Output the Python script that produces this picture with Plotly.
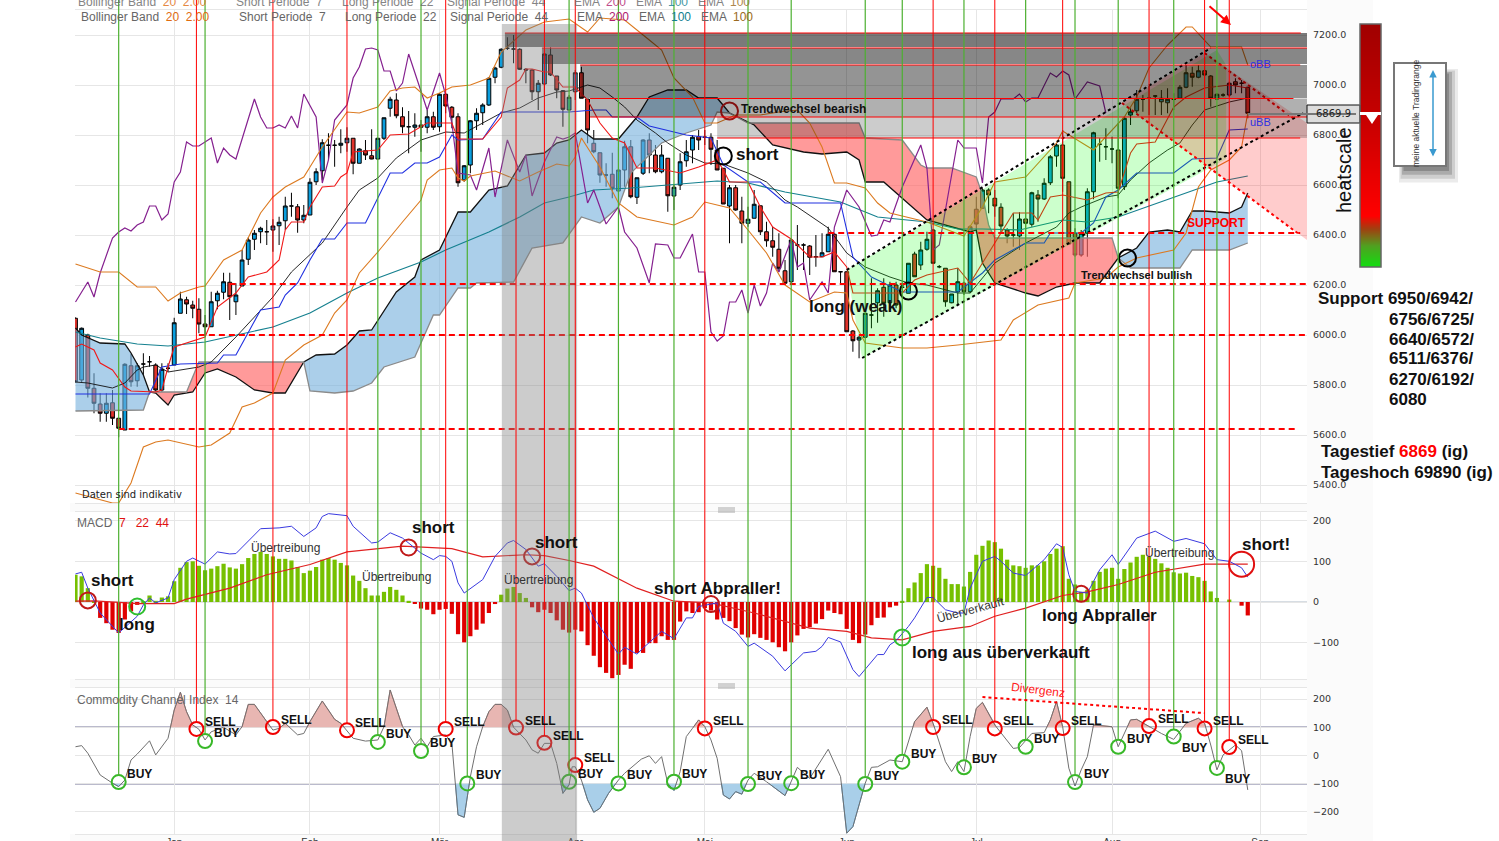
# plot.py - DAX daily chart with ichimoku, MACD and CCI panels
import plotly.graph_objects as go

W, H = 1499, 841

# candles, one per trading day
open_ = [6067,5820,6000,5787,5724,5687,5729,5667,5620,5877,
         5817,5884,5893,5880,5780,5867,5880,6087,6141,6120,
         6103,6044,6033,6137,6171,6211,6133,6196,6303,6383,
         6413,6413,6420,6437,6457,6516,6513,6460,6480,6613,
         6657,6759,6759,6759,6769,6787,6687,6737,6717,6704,
         6787,6907,6940,6873,6833,6831,6840,6831,6873,6833,
         6963,6911,6873,6620,6680,6857,6889,6920,7031,7071,
         7147,7144,7143,7063,7060,6973,7004,7120,7036,6977,
         6900,6973,7049,6944,6767,6729,6640,6643,6576,6660,
         6753,6551,6647,6780,6720,6653,6707,6556,6600,6697,
         6740,6793,6791,6791,6740,6667,6516,6589,6496,6447,
         6467,6517,6413,6377,6343,6257,6213,6360,6360,6356,
         6313,6313,6333,6403,6253,6253,6016,5980,5991,6080,
         6129,6191,6129,6200,6191,6167,6324,6280,6343,6420,
         6273,6267,6129,6173,6207,6173,6503,6507,6580,6547,
         6511,6420,6400,6396,6464,6443,6560,6544,6609,6716,
         6760,6613,6407,6320,6407,6573,6763,6753,6744,6740,
         6593,6880,6897,6943,6947,6956,6933,6929,6943,6947,
         6991,7047,7031,7057,7036,6944,6960,6960,7013,7007,
         6991]
high = [6070,6030,6005,5847,5767,5767,5780,5667,5887,5924,
        5887,5927,5916,5887,5887,5887,6069,6173,6153,6137,
        6147,6080,6173,6177,6249,6249,6207,6340,6390,6420,
        6433,6460,6463,6473,6553,6569,6524,6520,6627,6667,
        6783,6807,6780,6823,6831,6787,6747,6780,6823,6787,
        6869,6953,6967,6911,6896,6887,6860,6900,6893,6967,
        6967,6916,6887,6680,6860,6907,6927,7031,7073,7147,
        7191,7200,7147,7067,7063,7020,7127,7151,7036,6980,
        6960,7060,7073,6944,6820,6729,6687,6729,6753,6777,
        6780,6629,6783,6807,6760,6760,6707,6600,6727,6780,
        6800,6820,6820,6807,6780,6667,6600,6600,6553,6513,
        6580,6517,6453,6433,6407,6300,6380,6440,6367,6360,
        6400,6407,6433,6407,6253,6253,6020,5996,6087,6227,
        6187,6227,6213,6213,6207,6287,6333,6373,6413,6423,
        6280,6267,6164,6267,6213,6440,6553,6587,6587,6580,
        6527,6427,6487,6491,6487,6573,6580,6627,6720,6767,
        6820,6613,6427,6420,6587,6813,6787,6827,6793,6847,
        6873,6907,6980,6960,6996,6960,6980,6987,6967,7000,
        7080,7073,7080,7113,7040,6967,6967,7013,7027,7020,
        6993]
low = [5810,5810,5750,5687,5653,5653,5640,5591,5620,5793,
       5793,5840,5873,5773,5773,5853,5880,6087,6084,6067,
       6007,6000,6033,6103,6143,6060,6080,6196,6280,6340,
       6367,6360,6333,6360,6420,6473,6409,6447,6480,6600,
       6620,6700,6673,6727,6733,6643,6687,6700,6703,6703,
       6780,6873,6867,6807,6727,6793,6733,6807,6820,6813,
       6887,6827,6593,6613,6647,6820,6840,6916,7007,7067,
       7140,7087,7060,7007,6940,6900,6960,7036,6947,6833,
       6900,6940,6947,6767,6727,6609,6593,6547,6567,6593,
       6547,6524,6640,6647,6647,6647,6493,6500,6580,6673,
       6687,6740,6760,6680,6660,6524,6367,6497,6367,6433,
       6467,6400,6353,6313,6253,6200,6207,6260,6260,6240,
       6273,6316,6333,6253,6207,6013,5933,5907,5991,6027,
       6049,6073,6100,6107,6167,6167,6233,6260,6337,6287,
       6267,6113,6127,6120,6160,6167,6407,6507,6487,6473,
       6407,6367,6353,6340,6360,6433,6453,6540,6600,6673,
       6573,6360,6313,6313,6313,6543,6693,6700,6687,6547,
       6580,6840,6887,6893,6880,6880,6880,6887,6900,6947,
       6987,6993,7027,6993,6913,6940,6953,6953,6967,6967,
       6867]
close = [5813,6027,5787,5727,5687,5727,5667,5627,5883,5813,
         5877,5884,5893,5780,5863,5867,6049,6144,6124,6107,
         6044,6033,6133,6167,6213,6153,6160,6300,6380,6407,
         6427,6413,6436,6451,6516,6516,6460,6479,6611,6653,
         6769,6759,6759,6767,6787,6687,6744,6720,6704,6787,
         6869,6943,6877,6833,6833,6840,6831,6873,6831,6963,
         6916,6871,6609,6677,6857,6887,6920,7027,7068,7143,
         7147,7144,7063,7060,6973,7007,7124,7040,6980,6903,
         6951,7049,6947,6820,6733,6640,6640,6587,6660,6753,
         6553,6629,6780,6720,6653,6720,6557,6591,6693,6733,
         6791,6780,6791,6743,6660,6524,6589,6500,6447,6463,
         6523,6413,6377,6351,6267,6207,6380,6360,6360,6311,
         6313,6329,6403,6253,6253,6013,5977,5991,6087,6080,
         6177,6127,6200,6120,6191,6287,6233,6340,6383,6287,
         6273,6133,6164,6213,6173,6433,6444,6580,6560,6516,
         6436,6396,6400,6464,6447,6569,6544,6607,6713,6760,
         6627,6364,6320,6407,6573,6809,6763,6753,6744,6587,
         6867,6893,6943,6943,6947,6956,6947,6943,6943,6991,
         7049,7031,7057,7040,6947,6963,6960,7007,7000,7007,
         6887]

# indicator lines: trading day index and price at each corner
boll_up_day = [0,4,7,10,13,15,17,20,21,24,27,30,32,34,37,40,44,46,49,51,53,55,57,59,61,64,67,69,73,76,80,83,85,89,93,95,97,100,102,104,107,111,114,117,119,121,123,125,128,130,132,138,144,147,149,154,159,160,165,170,172,174,177,180,181,184,189,190]
boll_up = [6284,6252,6252,6192,6192,6136,6168,6192,6196,6300,6340,6488,6552,6592,6632,6752,6892,6888,6912,6976,6988,6992,6948,6968,6992,7000,7028,7132,7220,7252,7264,7212,7268,7260,7180,7140,7028,6952,6848,6848,6880,6880,6892,6900,6848,6752,6608,6608,6588,6528,6488,6452,6396,6512,6612,6632,6768,6816,6740,6872,6952,7068,7160,7232,7232,7152,7152,7080]
boll_low_day = [0,6,7,9,11,13,15,20,22,25,27,29,32,34,37,40,42,44,46,49,53,56,57,59,61,62,63,64,68,72,75,78,80,81,82,85,88,91,97,100,102,106,109,112,115,119,123,125,126,128,134,138,143,150,152,156,161,162,167,169,172,176,178,180,181,182,184,187,189,190]
boll_low = [5368,5328,5328,5408,5552,5572,5580,5552,5560,5608,5712,5728,5768,5900,5960,6000,6088,6140,6248,6332,6452,6540,6620,6660,6668,6628,6616,6636,6656,6616,6652,6684,6676,6712,6788,6672,6528,6472,6440,6472,6532,6508,6420,6328,6200,6132,6172,6168,6060,5968,5948,5948,5960,5980,6060,6120,6148,6208,6228,6272,6308,6328,6340,6408,6500,6592,6660,6700,6752,6888]
short_day = [0,1,3,4,6,8,9,13,14,15,16,21,23,26,28,31,33,34,35,37,38,40,42,43,44,45,49,51,54,57,61,62,66,69,70,72,73,74,76,77,79,81,83,85,87,89,91,94,98,101,104,105,106,109,111,113,116,119,121,123,125,126,130,134,136,138,143,145,147,149,152,155,156,158,160,164,167,169,171,172,175,178,180,183,187,190]
short_ema = [5952,5964,5940,5888,5860,5792,5776,5772,5780,5872,5952,5992,6112,6168,6232,6252,6300,6420,6452,6452,6512,6592,6596,6632,6648,6732,6740,6800,6804,6848,6848,6784,6784,6872,6988,7020,7064,7064,7052,7052,6992,6992,6940,6848,6788,6768,6668,6668,6648,6672,6700,6660,6612,6612,6512,6432,6384,6312,6312,6332,6272,6168,6168,6168,6220,6240,6268,6208,6288,6368,6488,6488,6460,6552,6560,6540,6568,6572,6728,6764,6772,6912,6952,6988,7000,6988]
long_day = [0,2,6,8,10,11,13,15,20,22,26,32,35,37,40,44,46,49,52,56,60,63,66,69,72,75,78,80,83,85,87,89,91,94,96,99,102,105,109,112,115,117,122,125,128,132,135,138,143,145,149,154,159,161,163,167,169,171,174,177,179,181,183,187,190]
long_ema = [5812,5808,5788,5808,5860,5872,5880,5852,5872,5892,5992,6152,6252,6300,6368,6512,6580,6628,6708,6780,6812,6808,6848,6888,6908,6948,6972,6976,7000,6988,6952,6912,6860,6808,6768,6720,6688,6684,6648,6612,6540,6512,6428,6328,6272,6232,6208,6200,6168,6168,6288,6368,6432,6488,6512,6552,6560,6620,6688,6740,6768,6840,6900,6932,6948]
signal_day = [0,12,14,17,23,24,26,30,33,34,36,38,40,42,44,47,51,53,55,57,59,61,62,66,69,80,84,86,87,91,93,99,103,105,109,111,115,124,126,129,134,143,147,149,154,157,158,163,165,167,169,172,178,181,185,187,190]
signal_line = [5764,5764,5872,5884,5888,5920,5920,6100,6112,6160,6208,6300,6384,6384,6448,6448,6648,6648,6688,6688,6712,6800,6780,6784,6892,6892,6900,6900,6872,6872,6836,6800,6788,6680,6612,6612,6528,6528,6312,6232,6172,6172,6248,6300,6368,6368,6408,6408,6448,6552,6580,6648,6648,6704,6708,6820,6824]
ema100_day = [0,4,10,15,21,26,32,38,44,49,56,60,67,72,76,80,84,90,96,104,109,115,124,130,138,143,147,153,160,164,169,178,185,190]
ema100 = [6012,5988,5964,5956,5972,6000,6032,6088,6168,6228,6292,6340,6412,6472,6528,6552,6580,6588,6600,6616,6608,6572,6532,6472,6452,6424,6424,6420,6460,6452,6472,6552,6612,6636]
ema200_day = [0,2,3,4,6,7,8,9,10,11,12,13,14,15,16,17,18,19,20,22,23,24,25,26,29,30,31,32,33,34,35,36,37,39,40,41,42,44,45,46,47,48,49,50,51,52,53,54,57,59,60,61,62,64,65,67,68,70,72,73,74,76,78,79,80,81,83,84,86,88,89,91,93,94,96,97,98,100,101,102,103,104,105,106,107,108,109,110,111,112,113,114,116,117,118,119,121,122,123,125,127,129,130,131,132,134,137,138,139,140,143,144,146,147,148,149,150,152,153,154,155,156,158,159,160,161,162,164,166,167]
ema200 = [6132,6212,6152,6248,6388,6412,6428,6416,6440,6452,6516,6516,6460,6484,6612,6652,6772,6756,6756,6788,6688,6748,6720,6704,6944,6872,6828,6828,6840,6828,6876,6828,6964,6872,6608,6700,6860,6920,7028,7072,7144,7148,7140,7056,7056,6976,7008,7124,6900,7048,6960,6848,6648,6640,6580,6748,6552,6780,6652,6720,6556,6692,6792,6784,6792,6808,6528,6580,6444,6512,6412,6348,6208,6364,6360,6308,6308,6404,6252,6252,6012,5976,5996,6132,6132,6180,6088,6200,6116,6168,6288,6252,6380,6272,6288,6140,6212,6168,6432,6580,6512,6396,6400,6460,6452,6592,6760,6668,6340,6360,6780,6748,6748,6608,6872,6892,6944,6944,6964,6932,6948,6948,7048,7032,7056,7040,6944,7012,6996,6888]

# ichimoku cloud edges, the crossings at days 12, 37, 106 and 169 sit in both lists
span_a_day = [0,1,4,8,9,11,12,13,15,16,19,21,23,26,29,32,34,37,39,42,44,46,48,52,55,56,59,60,62,64,67,70,73,76,78,80,82,84,88,91,93,96,99,101,104,106,110,113,118,121,125,127,128,131,138,145,146,147,149,154,156,159,162,166,169,172,174,177,179,181,183,187,189,190]
span_a = [6028,6000,5968,5964,5928,5840,5772,5768,5720,5760,5772,5848,5864,5832,5780,5768,5768,5892,5920,5924,5960,6016,6020,6172,6232,6300,6340,6392,6492,6492,6580,6596,6720,6728,6768,6780,6820,6784,6784,6872,6952,6980,6980,6948,6948,6888,6840,6760,6732,6724,6732,6700,6612,6612,6460,6412,6420,6288,6208,6168,6156,6192,6208,6208,6308,6348,6412,6420,6412,6496,6496,6488,6512,6568]
span_b_day = [0,11,12,18,20,36,37,38,42,45,48,50,55,58,59,62,64,65,71,74,79,82,85,88,90,95,99,103,104,106,109,116,127,128,134,137,138,142,146,147,148,149,160,168,169,171,179,181,187,190]
span_b = [5696,5700,5772,5772,5892,5892,5892,5776,5768,5776,5808,5872,5912,6080,6080,6188,6188,6208,6212,6348,6368,6472,6448,6512,6648,6768,6808,6840,6892,6888,6848,6848,6848,6788,6780,6680,6668,6668,6632,6560,6440,6388,6388,6388,6308,6268,6268,6340,6340,6368]
cloud_from = [0,12,37,106,169]
cloud_to = [12,37,106,169,190]
cloud_color = ["rgba(115,175,220,0.6)","rgba(255,100,100,0.65)","rgba(115,175,220,0.6)","rgba(255,100,100,0.65)","rgba(115,175,220,0.6)"]

# MACD panel
macd_hist = [67,63,34,2,-39,-52,-68,-76,-43,-23,-7,2,16,3,11,14,51,84,98,100,
             89,78,82,88,94,85,82,93,108,118,123,118,112,106,106,102,86,71,77,86,
             104,108,104,96,90,65,52,34,16,16,25,37,30,16,3,-4,-16,-19,-30,-19,
             -17,-29,-79,-99,-84,-68,-53,-27,-5,18,33,37,22,10,-13,-25,-19,-27,-45,-68,
             -75,-68,-72,-106,-132,-160,-174,-187,-179,-154,-164,-125,-125,-101,-101,-84,-93,-93,-48,-23,
             -27,-25,-15,-21,-43,-39,-47,-64,-80,-87,-79,-88,-93,-99,-111,-121,-99,-82,-66,-62,
             -53,-42,-21,-27,-30,-66,-93,-101,-80,-57,-39,-38,-13,-9,3,34,48,71,93,89,
             84,57,44,44,38,74,116,138,151,147,131,104,90,88,84,90,90,100,118,131,
             137,57,43,25,30,52,74,82,84,57,81,97,111,116,111,106,95,84,73,70,
             72,64,61,52,26,10,0,6,0,-9,-33]
macd_day = [0,1,2,4,7,10,11,12,13,15,16,18,19,21,23,25,26,30,33,35,37,39,40,41,44,45,48,49,51,53,56,58,59,60,61,62,63,66,68,70,71,73,75,76,78,80,81,82,84,88,89,91,92,94,95,97,99,100,101,104,105,107,109,110,113,115,118,120,121,122,124,126,127,130,131,132,133,135,136,138,139,141,143,144,145,147,149,150,152,154,156,157,159,160,161,162,164,166,168,169,172,175,178,180,183,185,187,189,190]
macd_line = [69,73,34,-27,-76,-35,-7,10,-2,10,55,100,108,93,123,118,119,180,182,186,161,182,210,217,212,186,145,147,170,157,120,104,114,112,100,47,22,55,112,145,151,129,88,94,63,28,34,22,-39,-128,-111,-128,-113,-84,-72,-90,-39,-39,-11,-2,-52,-72,-109,-101,-133,-169,-125,-121,-109,-87,-98,-166,-183,-129,-129,-105,-95,-60,-39,11,11,-19,-27,-27,34,100,112,100,71,65,92,104,143,134,67,26,22,79,116,92,157,174,149,156,143,104,100,84,61]
macd_sig_day = [0,3,7,10,16,18,25,31,38,44,53,61,66,73,76,80,84,91,97,103,110,116,119,125,129,134,139,145,149,154,160,164,169,175,183,190]
macd_signal = [2,3,-1,-4,-4,7,34,67,92,123,137,131,111,116,114,102,88,34,2,-2,-27,-52,-64,-72,-88,-93,-72,-60,-35,-15,16,25,43,73,93,93]
macd_ring_day = [2,10,54,74,103,134,163]
macd_ring_val = [4,-11,134,112,-5,-87,20]
macd_ring_col = ["#c01818","#2fbf2f","#c01818","#c01818","#c01818","#2fbf2f","#c01818"]
macd_note = ["short","long","Übertreibung","short","Übertreibung","short","Übertreibung","short Abpraller!","Überverkauft","long aus überverkauft","long Abpraller","Übertreibung","short!"]
macd_note_day = [6,10,34,58,52,78,75,104,145,150,166,179,193]
macd_note_val = [52,-54,133,182,61,147,54,32,-20,-123,-32,120,142]
macd_note_big = [1,1,0,1,0,1,0,1,0,1,1,0,1]
macd_note_rot = [0,0,0,0,0,0,0,0,-15,0,0,0,0]

# CCI panel
cci_day = [0,1,2,4,6,7,8,9,10,12,13,15,16,17,18,19,20,21,22,24,26,27,28,29,31,32,33,34,36,37,38,40,42,43,45,47,49,50,51,53,54,55,56,57,58,60,61,61.5,62,63,64,65,66,67,68,69,70,71,73,74,75,76,77,78,79,80,80.5,81,82,83,84,85,86.4,88,89,91.7,93,94,95,96,97,98,99,100,101,102,103,104,105,106,107,108,109,110,112,115,117,119,122,124,125,126,128,129,130,132,134,136,138,139,141,142,143,144,145,146,147,149,152,153,154,155,157,158,159,160,161,162,163,164,165,168,169,171,172,174,176,178,180,182,183,184,185,186,188,189,190]
cci = [31,35,8,-69,-98,-110,-87,-16,5,52,2,61,161,224,155,108,93,55,84,100,73,102,181,181,120,90,96,114,73,78,120,193,128,114,61,51,55,102,232,102,73,37,61,31,67,73,43,-75,-210,-219,-75,31,102,155,181,181,161,100,55,20,8,43,43,-28,-134,-104,-40,-40,-87,-157,-201,-187,-134,-87,-63,-13,-1,-28,-4,-99,-124,-57,67,96,126,102,55,-10,-140,-154,-128,-137,-87,-63,-93,-142,-42,-81,22,-75,-275,-252,-98,-42,-40,-16,-22,120,171,114,-22,-57,-22,-57,67,167,188,108,25,28,55,78,81,126,191,102,-45,-108,-51,-4,108,102,31,126,128,102,78,57,114,132,114,37,-51,2,37,17,-122]
buy_day = [7,21,49,56,63.5,80,88,97,109,116,128,134,144,154,162,169,178,185]
buy_val = [-94,51,48,16,-99,-93,-99,-93,-101,-98,-101,-22,-42,31,-94,31,67,-44]
buy_below = [0,0,0,0,0,0,0,0,0,0,0,0,0,0,0,0,1,1]
sell_day = [19.6,32,44,60,71.4,76,81,102,139,149,160,174,183,187]
sell_val = [94,101,89,94,99,45,-34,96,101,96,97,104,96,30]

# month ticks and price levels
month_day = [16,38,59,81,102,125,146,168,192]
month_name = ["Jan","Feb","Mär","Apr","Mai","Jun","Jul","Aug","Sep"]
price_ticks = [5400,5600,5800,6000,6200,6400,6600,6800,7000,7200]
macd_ticks = [-100,0,100,200]
cci_ticks = [-200,-100,0,100,200]
support_level = [6408,6204,6000,5624]
support_from = [122,25,20,7]
support_to = [198.5,199.4,199.4,198]

# resistance bands (top, bottom, first day, last day of the red line)
band_top = [7208,7148,7080,6946,6872]
band_bot = [7152,7084,6948,6872,6788]
band_from = [69.6,75.6,81.8,83.4,104]
band_alpha = [0.52,0.47,0.42,0.31,0.2]
band_line = [7208,7148,7080,6946,6872,6788]
band_line_from = [69.6,75.6,81.8,83.4,83.4,104]
band_line_to = [198.6,199.6,198.5,197.4,199.6,198.5]

# channels
up_channel_day = [125,185,186.5,186.5,127.5]
up_channel = [6260,7140,7080,6704,5908]
down_channel_day = [169.6,183,199.6,199.6]
down_channel = [6928,7128,6848,6380]
dotted_black_day = [[125,184],[127.5,199]]
dotted_black = [[6260,7148],[5908,6888]]
dotted_red_day = [[183,197.3],[169.6,198.5]]
dotted_red = [[7128,6868],[6928,6400]]

# heat scale bar, 0 at the green end and 1 at the dark red end
heat_levels = [0,0.05,0.1,0.15,0.2,0.25,0.3,0.4,0.5,0.6,0.7,0.8,0.9,1]
heat_colors = [[0,"#10e010"],[0.09,"#50a020"],[0.16,"#a04010"],[0.21,"#ff0000"],[0.6,"#c80000"],[1,"#a00000"]]


def px(x):
    return x / W


def py(y):
    return 1 - y / H


def cci_paper(v):
    # cci axis: 239 at y=688 and -278 at y=834
    return py(688 + (239 - v) / 517 * 146)


def cut(days, vals, level, sign):
    # polygons of the part of the cci line beyond a level
    xs, ys = [], []
    for d0, v0, d1, v1 in zip(days, vals, days[1:], vals[1:]):
        a, b = (v0 - level) * sign > 0, (v1 - level) * sign > 0
        if a:
            xs.append(d0)
            ys.append(v0)
        if a != b:
            t = (level - v0) / (v1 - v0)
            xs.append(d0 + t * (d1 - d0))
            ys.append(level)
            if a:
                xs.append(None)
                ys.append(None)
    return xs, ys


fig = go.Figure()

# price panel
fig.add_trace(go.Candlestick(
    x=list(range(len(close))), open=open_, high=high, low=low, close=close,
    whiskerwidth=0, line=dict(width=1),
    increasing=dict(fillcolor="#0a9ede", line=dict(color="#000000", width=1)),
    decreasing=dict(fillcolor="#e0332b", line=dict(color="#000000", width=1)),
    xaxis="x", yaxis="y", showlegend=False,
))
for c0, c1, col in zip(cloud_from, cloud_to, cloud_color):
    xa = [d for d in span_a_day if c0 <= d <= c1]
    ya = [v for d, v in zip(span_a_day, span_a) if c0 <= d <= c1]
    xb = [d for d in span_b_day if c0 <= d <= c1]
    yb = [v for d, v in zip(span_b_day, span_b) if c0 <= d <= c1]
    fig.add_trace(go.Scatter(x=xa + xb[::-1], y=ya + yb[::-1], fill="toself", fillcolor=col,
                             mode="none", xaxis="x", yaxis="y", hoverinfo="skip"))

price_lines = [
    (span_a_day, span_a, "#111111", 1.3),
    (span_b_day, span_b, "#8a8a8a", 1.3),
    (ema100_day, ema100, "#15808f", 1.2),
    (ema200_day, ema200, "#85208f", 1.2),
    (boll_up_day, boll_up, "#dc7a20", 1.1),
    (boll_low_day, boll_low, "#dc7a20", 1.1),
    (long_day, long_ema, "#111111", 0.9),
    (signal_day, signal_line, "#2030e0", 1.1),
    (short_day, short_ema, "#f01818", 1.1),
]
for xs, ys, col, wd in price_lines:
    fig.add_trace(go.Scatter(x=xs, y=ys, mode="lines", line=dict(color=col, width=wd),
                             xaxis="x", yaxis="y", hoverinfo="skip"))

fig.add_trace(go.Scatter(x=up_channel_day + up_channel_day[:1], y=up_channel + up_channel[:1], fill="toself",
                         fillcolor="rgba(0,255,0,0.2)", mode="none", xaxis="x", yaxis="y", hoverinfo="skip"))
fig.add_trace(go.Scatter(x=down_channel_day + down_channel_day[:1], y=down_channel + down_channel[:1], fill="toself",
                         fillcolor="rgba(255,0,0,0.2)", mode="none", xaxis="x", yaxis="y", hoverinfo="skip"))
for xs, ys in zip(dotted_black_day, dotted_black):
    fig.add_trace(go.Scatter(x=xs, y=ys, mode="lines", line=dict(color="#000000", width=2, dash="dot"),
                             xaxis="x", yaxis="y", hoverinfo="skip"))
for xs, ys in zip(dotted_red_day, dotted_red):
    fig.add_trace(go.Scatter(x=xs, y=ys, mode="lines", line=dict(color="#ff0000", width=2, dash="dot"),
                             xaxis="x", yaxis="y", hoverinfo="skip"))
# rings on the price panel
fig.add_trace(go.Scatter(x=[106,105,135,170.5], y=[6896,6716,6176,6308], mode="markers",
                         marker=dict(symbol="circle-open", size=17, color=["#c01818","#000000","#000000","#000000"],
                                     line=dict(width=2)), xaxis="x", yaxis="y", hoverinfo="skip"))

# MACD panel
fig.add_trace(go.Bar(x=list(range(len(macd_hist))), y=macd_hist, width=0.68,
                     marker=dict(color=["#76c000" if v >= 0 else "#e00000" for v in macd_hist], line_width=0),
                     xaxis="x2", yaxis="y2", hoverinfo="skip"))
fig.add_trace(go.Scatter(x=macd_sig_day, y=macd_signal, mode="lines", line=dict(color="#e02020", width=1.2),
                         xaxis="x2", yaxis="y2", hoverinfo="skip"))
fig.add_trace(go.Scatter(x=macd_day, y=macd_line, mode="lines", line=dict(color="#3a3ae0", width=1),
                         xaxis="x2", yaxis="y2", hoverinfo="skip"))
fig.add_trace(go.Scatter(x=macd_ring_day, y=macd_ring_val, mode="markers",
                         marker=dict(symbol="circle-open", size=16, color=macd_ring_col, line=dict(width=2)),
                         xaxis="x2", yaxis="y2", hoverinfo="skip"))
fig.add_trace(go.Scatter(x=[189], y=[93], mode="markers",
                         marker=dict(symbol="circle-open", size=25, color="#e01010", line=dict(width=2)),
                         xaxis="x2", yaxis="y2", hoverinfo="skip"))

# CCI panel
up_x, up_y = cut(cci_day, cci, 100, 1)
down_x, down_y = cut(cci_day, cci, -100, -1)
fig.add_trace(go.Scatter(x=up_x, y=up_y, fill="toself", fillcolor="#e8b6b2", mode="lines",
                         line=dict(color="#cf8a86", width=1), xaxis="x3", yaxis="y3", hoverinfo="skip"))
fig.add_trace(go.Scatter(x=down_x, y=down_y, fill="toself", fillcolor="#a9cfe9", mode="lines",
                         line=dict(color="#5ba0d0", width=1), xaxis="x3", yaxis="y3", hoverinfo="skip"))
fig.add_trace(go.Scatter(x=cci_day, y=cci, mode="lines", line=dict(color="#707070", width=1),
                         xaxis="x3", yaxis="y3", hoverinfo="skip"))
fig.add_trace(go.Scatter(x=buy_day, y=buy_val, mode="markers",
                         marker=dict(symbol="circle-open", size=14, color="#38b828", line=dict(width=2)),
                         xaxis="x3", yaxis="y3", hoverinfo="skip"))
fig.add_trace(go.Scatter(x=sell_day, y=sell_val, mode="markers",
                         marker=dict(symbol="circle-open", size=14, color="#f00000", line=dict(width=2)),
                         xaxis="x3", yaxis="y3", hoverinfo="skip"))

# heat scale
fig.add_trace(go.Heatmap(z=[[v] for v in heat_levels], y=heat_levels, x=[0], zsmooth="best", colorscale=heat_colors,
                         zmin=0, zmax=1, showscale=False, xaxis="x4", yaxis="y4", hoverinfo="skip"))

shapes = []
# near white chart background around the panels
for x0, y0, x1, y1 in [(70,503,1373,512), (70,679,1373,688), (70,834,1373,841), (1307,0,1373,841)]:
    shapes.append(dict(type="rect", xref="paper", yref="paper", x0=px(x0), x1=px(x1), y0=py(y0), y1=py(y1),
                       fillcolor="#fbfbfb", line_width=0, layer="below"))
# bands and their red edges
for top, bot, d0, a in zip(band_top, band_bot, band_from, band_alpha):
    shapes.append(dict(type="rect", xref="x", yref="y", x0=d0, x1=199.6, y0=bot, y1=top,
                       fillcolor=f"rgba(0,0,0,{a})", line_width=0, layer="above"))
for v, d0, d1 in zip(band_line, band_line_from, band_line_to):
    shapes.append(dict(type="line", xref="x", yref="y", x0=d0, x1=d1, y0=v, y1=v, line=dict(color="#ff0000", width=1.2)))
# support levels
for v, d0, d1 in zip(support_level, support_from, support_to):
    shapes.append(dict(type="line", xref="x", yref="y", x0=d0, x1=d1, y0=v, y1=v,
                       line=dict(color="#ff0000", width=2, dash="6px,4px")))
# grey time span through all panels
shapes.append(dict(type="rect", xref="x", yref="paper", x0=69.1, x1=81.3, y0=0, y1=py(24),
                   fillcolor="rgba(128,128,128,0.4)", line_width=0, layer="above"))
# signal verticals, each one runs down to its ring
for d, v in zip(buy_day, buy_val):
    shapes.append(dict(type="line", xref="x", yref="paper", x0=d, x1=d, y0=cci_paper(v) + 0.008, y1=1,
                       line=dict(color="#4cb030", width=1.2)))
for d, v in zip(sell_day, sell_val):
    shapes.append(dict(type="line", xref="x", yref="paper", x0=d, x1=d, y0=cci_paper(v) + 0.008, y1=1,
                       line=dict(color="#ff0000", width=1)))
# cci guides
for v, col, wd in [(100,"#77779a",1.4), (0,"#b8c4c8",1.2), (-100,"#77779a",1.4)]:
    shapes.append(dict(type="line", xref="x3", yref="y3", x0=-0.08, x1=199.6, y0=v, y1=v, line=dict(color=col, width=wd), layer="below"))
shapes.append(dict(type="line", xref="x2", yref="y2", x0=-0.08, x1=199.6, y0=0, y1=0, line=dict(color="#b0bcc8", width=1.2), layer="below"))
shapes.append(dict(type="line", xref="x3", yref="y3", x0=147, x1=183, y0=207, y1=150, line=dict(color="#ff0000", width=2, dash="dot")))
# panel drag handles
for yc in (510, 686):
    for k in (-2, 0, 2):
        shapes.append(dict(type="line", xref="paper", yref="paper", x0=px(718), x1=px(735), y0=py(yc + k), y1=py(yc + k),
                           line=dict(color="#a8a8a8", width=1)))
# current price box and line
shapes.append(dict(type="rect", xref="paper", yref="paper", x0=px(1307), x1=px(1360), y0=py(123), y1=py(105),
                   fillcolor="#dddddd", line=dict(color="#111111", width=1)))
shapes.append(dict(type="line", xref="paper", yref="paper", x0=px(1248), x1=px(1356), y0=py(114), y1=py(114),
                   line=dict(color="#777777", width=2)))
# heat bar frame, marker gap and triangle
shapes.append(dict(type="rect", xref="paper", yref="paper", x0=px(1360), x1=px(1381), y0=py(267), y1=py(24),
                   line=dict(color="#666666", width=1.5)))
shapes.append(dict(type="rect", xref="paper", yref="paper", x0=px(1360), x1=px(1381), y0=py(115), y1=py(112),
                   fillcolor="#ffffff", line_width=0))
shapes.append(dict(type="path", xref="paper", yref="paper",
                   path=f"M{px(1366)},{py(115)} L{px(1378)},{py(115)} L{px(1372)},{py(124)} Z",
                   fillcolor="#ffffff", line_width=0))
# trading range note with soft shadow
for k, a in [(12,0.12), (9,0.2), (6,0.3), (3,0.4)]:
    shapes.append(dict(type="rect", xref="paper", yref="paper", x0=px(1402 + 3 - k / 2), x1=px(1446 + k), y0=py(167 + k * 1.3), y1=py(75 - k / 2),
                       fillcolor=f"rgba(90,90,90,{a})", line_width=0))
shapes.append(dict(type="rect", xref="paper", yref="paper", x0=px(1394), x1=px(1446), y0=py(166), y1=py(63),
                   fillcolor="#ffffff", line=dict(color="#777777", width=2)))


def note(text, x, y, xref, yref, size=12, color="#111111", bold=False, angle=0, xanchor="center", family="Liberation Sans", **kw):
    # annotation boxes have a small pad, left aligned texts are pulled back over it
    if xanchor == "left":
        kw["xshift"] = -2
    return dict(text=f"<b>{text}</b>" if bold else text, x=x, y=y, xref=xref, yref=yref, showarrow=False,
                font=dict(size=size, color=color, family=family), textangle=angle, xanchor=xanchor, yanchor="middle", **kw)


ann = []
# legend rows on top, the first one is cut off by the page edge
GREY = "#666666"
def legend_row(y, dx, alpha):
    items = [
        (81, f'Bollinger Band  <span style="color:#e06c10">20  2.00</span>'),
        (239, 'Short Periode  7'),
        (345, 'Long Periode  22'),
        (450, 'Signal Periode  44'),
        (577, 'EMA  <span style="color:#b0206f">200</span>'),
        (639, 'EMA  <span style="color:#10808f">100</span>'),
        (701, 'EMA  <span style="color:#9a6a20">100</span>'),
    ]
    for x, t in items:
        ann.append(note(t, px(x + dx), py(y), "paper", "paper", size=12, color=GREY, xanchor="left", opacity=alpha))
legend_row(2.5, -3, 0.8)
legend_row(17, 0, 1)

ann.append(note("Trendwechsel bearish", 118, 6904, "x", "y", size=12, bold=True))
ann.append(note("short", 110.5, 6720, "x", "y", size=17, bold=True))
ann.append(note("long (weak)", 126.5, 6112, "x", "y", size=17, bold=True))
ann.append(note("Trendwechsel bullish", 172, 6240, "x", "y", size=11, bold=True))
ann.append(note("SUPPORT", 185, 6448, "x", "y", size=12, color="#ff0000", bold=True))
ann.append(note("oBB", 192, 7084, "x", "y", size=11, color="#3030e0"))
ann.append(note("uBB", 192, 6852, "x", "y", size=11, color="#3030e0"))
ann.append(note("Daten sind indikativ", px(82), py(494), "paper", "paper", size=10, color="#222222", xanchor="left", family="DejaVu Sans"))
ann.append(note('MACD  <span style="color:#e01010">7   22  44</span>', px(77), py(523), "paper", "paper", size=12, color=GREY, xanchor="left"))
ann.append(note("Commodity Channel Index  14", px(77), py(700), "paper", "paper", size=12, color=GREY, xanchor="left"))
for t, d, v, big, rot in zip(macd_note, macd_note_day, macd_note_val, macd_note_big, macd_note_rot):
    ann.append(note(t, d, v, "x2", "y2", size=17 if big else 12, bold=bool(big), angle=rot, color="#111111" if big else "#333333"))
for d, v, below in zip(buy_day, buy_val, buy_below):
    ann.append(note("BUY", d, v, "x3", "y3", bold=True, xshift=21, yshift=-11 if below else 8))
for d, v in zip(sell_day, sell_val):
    ann.append(note("SELL", d, v, "x3", "y3", bold=True, xshift=24, yshift=7))
ann.append(note("Divergenz", 156, 232, "x3", "y3", color="#ff2020", angle=7))

# right hand side texts
ann.append(note("6869.9", px(1333), py(114), "paper", "paper", size=10, color="#222222", family="DejaVu Sans"))
ann.append(note("heatscale", px(1344), py(170), "paper", "paper", size=20, color="#111111", angle=-90))
ann.append(note("meine aktuelle Tradingrange", px(1416), py(113), "paper", "paper", size=8.5, color="#333333", angle=-90))
ann.append(note("Support 6950/6942/", px(1318), py(299), "paper", "paper", size=17, bold=True, xanchor="left"))
for y, t in zip([319,339,359,379,399], ["6756/6725/","6640/6572/","6511/6376/","6270/6192/","6080"]):
    ann.append(note(t, px(1389), py(y), "paper", "paper", size=17, bold=True, xanchor="left"))
ann.append(note('Tagestief <span style="color:#ff0000">6869</span> (ig)', px(1321), py(452), "paper", "paper", size=17, bold=True, xanchor="left"))
ann.append(note("Tageshoch 69890 (ig)", px(1321), py(472), "paper", "paper", size=17, bold=True, xanchor="left"))

# arrows
ann.append(dict(x=px(1231), y=py(25), xref="paper", yref="paper", ax=-23, ay=-20, text="", showarrow=True,
                arrowcolor="#ff0000", arrowwidth=2, arrowhead=2))
ann.append(dict(x=px(1433), y=py(70), xref="paper", yref="paper", ax=0, ay=88, text="", showarrow=True,
                arrowcolor="#3a9ad0", arrowwidth=1.5, arrowhead=2, startarrowhead=2, arrowside="end+start"))

grid = "#e6e6e6"
x_common = dict(range=[-0.08, 199.6], tickmode="array", tickvals=month_day, ticktext=month_name, showgrid=True, gridcolor=grid,
                zeroline=False, showline=True, linecolor=grid, mirror=True, ticks="", automargin=False)
y_common = dict(side="right", showgrid=True, gridcolor=grid, zeroline=False, showline=False, ticks="", ticklabelstandoff=5,
                automargin=False, tickfont=dict(family="DejaVu Sans", size=9.5, color="#333333"))

fig.update_layout(
    width=W, height=H, margin=dict(l=0, r=0, t=0, b=0), autosize=False,
    paper_bgcolor="#ffffff", plot_bgcolor="rgba(0,0,0,0)", showlegend=False, boxgap=0.12,
    font=dict(family="Liberation Sans"), barmode="overlay", shapes=shapes, annotations=ann,
    xaxis=dict(domain=[px(75), px(1307)], anchor="y", showticklabels=False, rangeslider=dict(visible=False), **x_common),
    xaxis2=dict(domain=[px(75), px(1307)], anchor="y2", showticklabels=False, **x_common),
    xaxis3=dict(domain=[px(75), px(1307)], anchor="y3", showticklabels=True, ticklabelstandoff=-1,
                tickfont=dict(size=10, color="#333333"), **x_common),
    xaxis4=dict(domain=[px(1360), px(1381)], anchor="y4", visible=False),
    yaxis=dict(domain=[py(503), py(10)], range=[5328, 7300], anchor="x", tickvals=price_ticks, tickformat=".1f", **y_common),
    yaxis2=dict(domain=[py(679), py(512)], range=[-189, 221], anchor="x2", tickvals=macd_ticks, **y_common),
    yaxis3=dict(domain=[py(834), py(688)], range=[-278, 239], anchor="x3", tickvals=cci_ticks, **y_common),
    yaxis4=dict(domain=[py(267), py(24)], range=[0, 1], anchor="x4", visible=False),
)

fig.write_html("out.html", config={"displayModeBar": False},
               post_script="document.body.style.margin='0';document.body.style.overflow='hidden';")
